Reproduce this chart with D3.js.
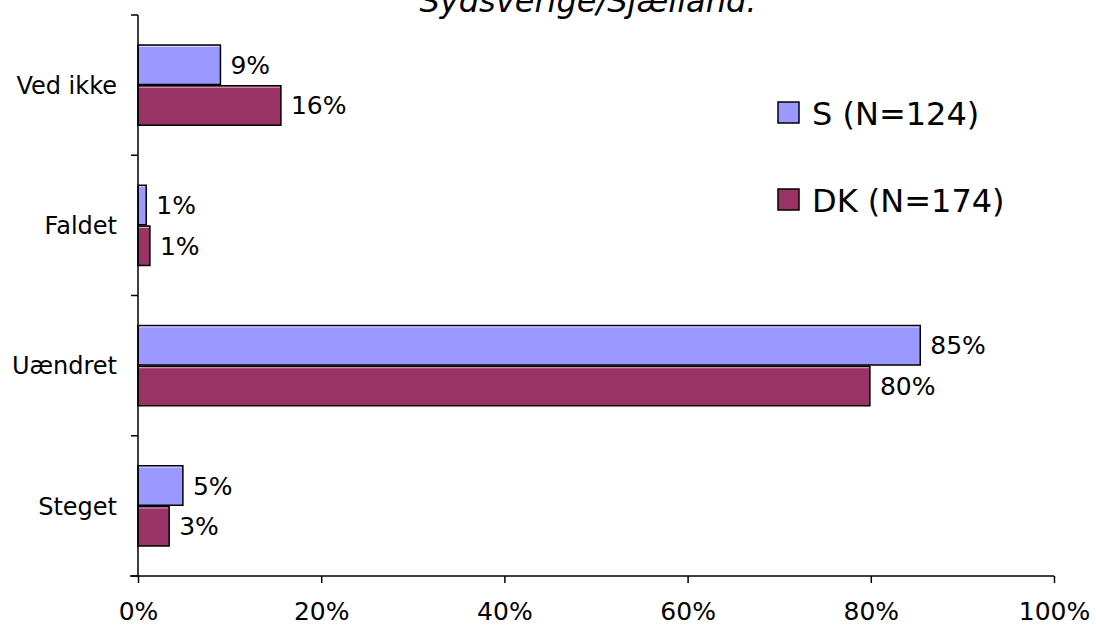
<!DOCTYPE html>
<html>
<head>
<meta charset="utf-8">
<script src="https://cdn.jsdelivr.net/npm/d3@7"></script>
<style>
  body { margin: 0; background: #fff; }
  svg { display: block; font-family: "DejaVu Sans", Verdana, sans-serif; }
</style>
</head>
<body>
<svg id="chart" width="1096" height="629"></svg>
<script>
// categories top to bottom
var categories = ["Ved ikke", "Faldet", "Uændret", "Steget"];
var seriesNames = ["S (N=124)", "DK (N=174)"];
var seriesColors = ["#9999FF", "#993366"];
// percent values
var valuesS  = [9.0, 0.9, 85.4, 4.9];
var valuesDK = [15.6, 1.3, 79.9, 3.4];
var xTicks = [0, 20, 40, 60, 80, 100];
var titleText = "Sydsverige/Sjælland.";

var svg = d3.select("#chart");

var plotLeft = 138, plotRight = 1054, plotTop = 15, plotBottom = 576;

var x = d3.scaleLinear().domain([0, 100]).range([plotLeft, plotRight]);
var y = d3.scaleBand().domain(categories).range([plotTop, plotBottom]).padding(0);
var bw = y.bandwidth();
var sub = d3.scaleBand().domain([0, 1]).range([bw * 0.214, bw * 0.786]).paddingInner(0.03);

// title (mostly cut off at the top)
svg.append("text")
    .attr("x", 588)
    .attr("y", 12)
    .attr("text-anchor", "middle")
    .style("font-size", "32px")
    .style("font-style", "italic")
    .text(titleText);

// bars
var rows = categories.map(function(c, i) {
    return { cat: c, vals: [valuesS[i], valuesDK[i]] };
});

var g = svg.append("g");
rows.forEach(function(r) {
    r.vals.forEach(function(v, s) {
        var by = y(r.cat) + sub(s);
        g.append("rect")
            .attr("x", x(0))
            .attr("y", by)
            .attr("width", x(v) - x(0))
            .attr("height", sub.bandwidth())
            .attr("fill", seriesColors[s])
            .attr("stroke", "#000")
            .attr("stroke-width", 1.5);
        // light bevel line on top
        g.append("line")
            .attr("x1", x(0) + 1).attr("x2", x(v) - 1)
            .attr("y1", by + 1.5).attr("y2", by + 1.5)
            .attr("stroke", "#fff").attr("stroke-opacity", 0.6)
            .attr("stroke-width", 1);
        g.append("text")
            .attr("x", x(v) + 10)
            .attr("y", by + sub.bandwidth() / 2)
            .attr("dy", "0.36em")
            .style("font-size", "25px")
            .text(Math.round(v) + "%");
    });
});

// x axis
var xAxis = d3.axisBottom(x)
    .tickValues(xTicks)
    .tickFormat(function(d) { return d + "%"; })
    .tickSize(7)
    .tickSizeOuter(0)
    .tickPadding(19);

var gx = svg.append("g")
    .attr("transform", "translate(0," + plotBottom + ")")
    .call(xAxis);
gx.select(".domain").attr("stroke-width", 1.5).attr("d", "M" + (plotLeft - 8) + ",0H" + plotRight);
gx.selectAll(".tick line").attr("stroke-width", 1.5);
gx.selectAll(".tick text")
    .attr("fill", "#000")
    .style("font-size", "25px")
    .style("font-family", "DejaVu Sans");

// y axis: line, ticks on band boundaries, labels at centres
var gy = svg.append("g");
gy.append("line")
    .attr("x1", plotLeft).attr("x2", plotLeft)
    .attr("y1", plotTop).attr("y2", plotBottom)
    .attr("stroke", "#000").attr("stroke-width", 1.5);
var bounds = categories.map(function(c) { return y(c); }).concat([plotBottom]);
gy.selectAll(".ytick").data(bounds).enter().append("line")
    .attr("x1", plotLeft - 7).attr("x2", plotLeft)
    .attr("y1", function(d) { return d; })
    .attr("y2", function(d) { return d; })
    .attr("stroke", "#000").attr("stroke-width", 1.5);
gy.selectAll(".ylab").data(categories).enter().append("text")
    .attr("x", plotLeft - 21)
    .attr("y", function(d) { return y(d) + bw / 2; })
    .attr("dy", "0.36em")
    .attr("text-anchor", "end")
    .style("font-size", "24px")
    .text(function(d) { return d; });

// legend
var legend = svg.append("g").attr("transform", "translate(778,102)");
seriesNames.forEach(function(n, i) {
    var ly = i * 87;
    legend.append("rect")
        .attr("x", 0).attr("y", ly)
        .attr("width", 21).attr("height", 21)
        .attr("fill", seriesColors[i])
        .attr("stroke", "#000").attr("stroke-width", 1.5);
    legend.append("text")
        .attr("x", 34).attr("y", ly + 23)
        .style("font-size", "32px")
        .text(n);
});
</script>
</body>
</html>
